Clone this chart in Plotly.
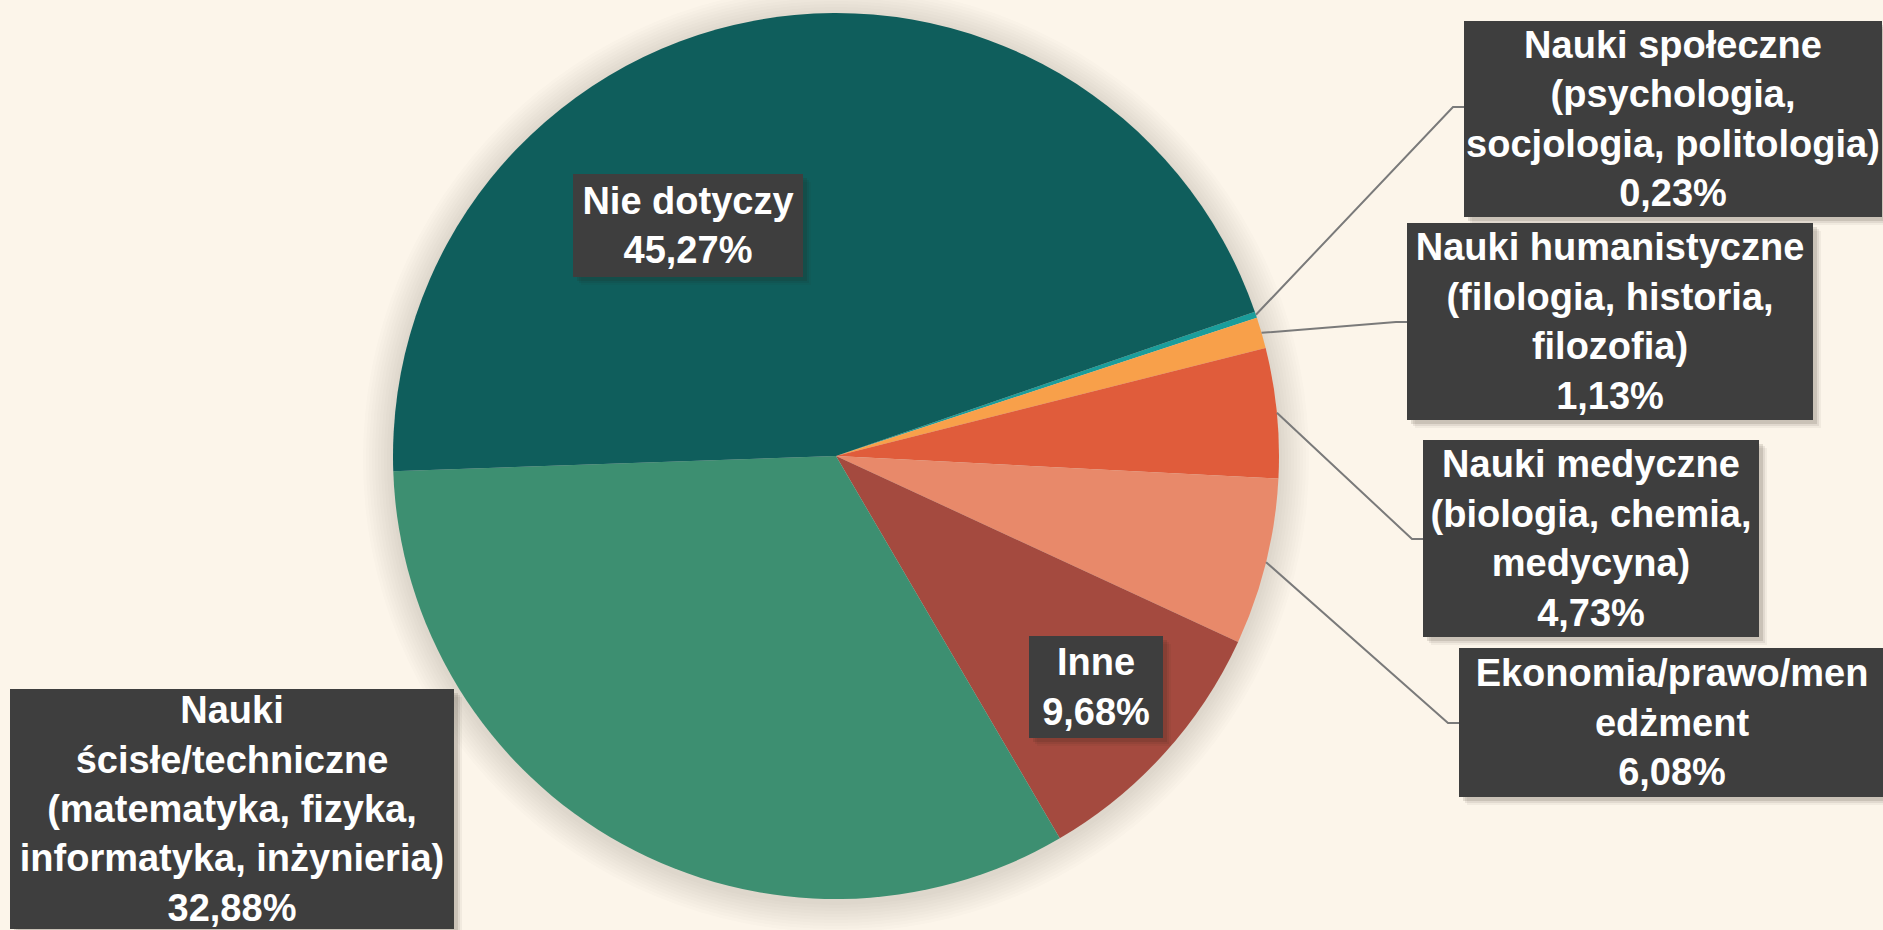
import math
import plotly.graph_objects as go

W, H = 1883, 930

# ---------------- data ----------------
categories = [
    "Nauki społeczne (psychologia, socjologia, politologia)",
    "Nauki humanistyczne (filologia, historia, filozofia)",
    "Nauki medyczne (biologia, chemia, medycyna)",
    "Ekonomia/prawo/menedżment",
    "Inne",
    "Nauki ścisłe/techniczne (matematyka, fizyka, informatyka, inżynieria)",
    "Nie dotyczy",
]
label_lines = [
    "Nauki społeczne<br>(psychologia,<br>socjologia, politologia)",
    "Nauki humanistyczne<br>(filologia, historia,<br>filozofia)",
    "Nauki medyczne<br>(biologia, chemia,<br>medycyna)",
    "Ekonomia/prawo/men<br>edżment",
    "Inne",
    "Nauki<br>ścisłe/techniczne<br>(matematyka, fizyka,<br>informatyka, inżynieria)",
    "Nie dotyczy",
]
values = [0.23, 1.13, 4.73, 6.08, 9.68, 32.88, 45.27]

colors = ["#1a9d9b", "#f8a04a", "#e05c3b", "#e8896a", "#a44a3f", "#3d8f71", "#0f5e5c"]

# ---------------- layout / style ----------------
BG = "#fcf5ea"
CX, CY, R = 836, 456, 443          # pie centre / radius in px
ROTATION = 71                       # degrees clockwise from 12 o'clock
FONT = dict(family="Liberation Sans, Arial, sans-serif", size=38, color="white", weight="bold")

# label boxes: left, top, width, height (px)
boxes = [
    (1464, 21, 418, 196),
    (1407, 223, 406, 197),
    (1423, 440, 336, 197),
    (1459, 648, 426, 149),
    (1029, 636, 134, 102),
    (10, 689, 444, 240),
    (573, 174, 230, 103),
]
# outside labels with connector lines: index -> elbow y
connector_y = {0: 107, 1: 322, 2: 539, 3: 723}


def px(x):
    return x / W


def py(y):
    return 1 - y / H


fig = go.Figure()

fig.add_trace(go.Pie(
    labels=categories,
    values=values,
    sort=False,
    direction="clockwise",
    rotation=ROTATION,
    marker=dict(colors=colors, line=dict(width=0)),
    textinfo="none",
    hoverinfo="label+percent",
    showlegend=False,
    domain=dict(x=[px(CX - R), px(CX + R)], y=[py(CY + R), py(CY - R)]),
))

shapes = []
# soft shadow around the pie
n_glow = 10
for k in range(n_glow, 0, -1):
    rr = R + 3 * k
    cy = CY + 3
    shapes.append(dict(
        type="circle", xref="paper", yref="paper", layer="below",
        x0=px(CX - rr), x1=px(CX + rr), y0=py(cy + rr), y1=py(cy - rr),
        fillcolor="rgba(90,80,60,0.017)", line=dict(width=0),
    ))

# connector lines computed from slice mid-angles
total = sum(values)
theta0 = 90 - ROTATION
cum = 0.0
mids = []
for v in values:
    mids.append(theta0 - 360 * (cum + v / 2) / total)
    cum += v

for i, ey in connector_y.items():
    a = math.radians(mids[i])
    sx = CX + R * math.cos(a)
    sy = CY - R * math.sin(a)
    left = boxes[i][0]
    path = f"M {px(sx)},{py(sy)} L {px(left - 11)},{py(ey)} L {px(left)},{py(ey)}"
    shapes.append(dict(
        type="path", xref="paper", yref="paper", path=path, layer="above",
        line=dict(color="#7a7a7a", width=2),
    ))

# drop shadows for the label boxes
for (left, top, w, h) in boxes:
    for (d, al) in [(8, 0.05), (6, 0.08), (4, 0.12)]:
        shapes.append(dict(
            type="rect", xref="paper", yref="paper", layer="above",
            x0=px(left + d), x1=px(left + w + d), y0=py(top + h + d), y1=py(top + d),
            fillcolor=f"rgba(40,30,20,{al})", line=dict(width=0),
        ))

annotations = []
for i, (lab, v) in enumerate(zip(label_lines, values)):
    txt = lab + "<br>" + f"{v:.2f}".replace(".", ",") + "%"
    left, top, w, h = boxes[i]
    annotations.append(dict(
        xref="paper", yref="paper", x=px(left), y=py(top),
        xanchor="left", yanchor="top", width=w, height=h,
        align="center", valign="middle", showarrow=False,
        borderpad=0, borderwidth=0, text=txt,
        bgcolor="#3e3e3e", font=FONT,
    ))

fig.update_layout(
    width=W, height=H,
    margin=dict(l=0, r=0, t=0, b=0),
    paper_bgcolor=BG, plot_bgcolor=BG,
    shapes=shapes, annotations=annotations,
    showlegend=False,
)

fig.write_html(
    "out.html",
    config={"displayModeBar": False},
    post_script="document.body.style.margin='0';document.body.style.overflow='hidden';"
                "document.body.style.background='" + BG + "';",
)
